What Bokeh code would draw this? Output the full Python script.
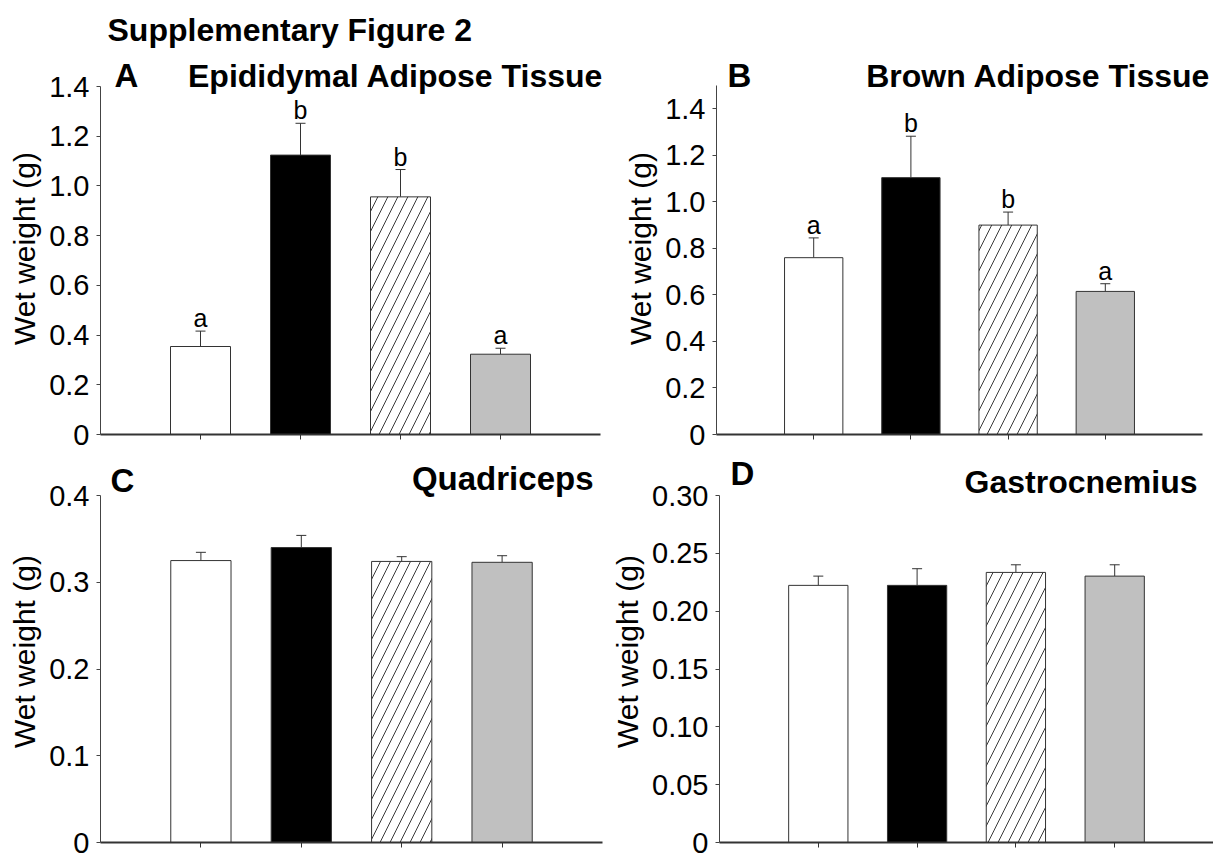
from bokeh.plotting import figure
from bokeh.models import (ColumnDataSource, Whisker, TeeHead, Label, FixedTicker,
                          NumeralTickFormatter, Range1d)
from bokeh.layouts import column, row
from bokeh.embed import file_html
from bokeh.resources import INLINE
from bokeh.core.properties import value

FONT = "Liberation Sans"

# ---- data -------------------------------------------------------------
group_x = [1, 2, 3, 4]
bar_fills = ["white", "black", "white", "#c0c0c0"]
bar_hatches = [" ", " ", "/", " "]

epi_mean = [0.354, 1.124, 0.956, 0.323]
epi_se = [0.062, 0.128, 0.110, 0.024]
epi_letters = ["a", "b", "b", "a"]

bat_mean = [0.760, 1.104, 0.900, 0.615]
bat_se = [0.085, 0.178, 0.056, 0.033]
bat_letters = ["a", "b", "b", "a"]

quad_mean = [0.325, 0.340, 0.324, 0.323]
quad_se = [0.0095, 0.014, 0.0055, 0.0076]

gas_mean = [0.2223, 0.2223, 0.2335, 0.2303]
gas_se = [0.0080, 0.0144, 0.0066, 0.0098]

epi_ticks = [0, 0.2, 0.4, 0.6, 0.8, 1.0, 1.2, 1.4]
bat_ticks = [0, 0.2, 0.4, 0.6, 0.8, 1.0, 1.2, 1.4]
quad_ticks = [0, 0.1, 0.2, 0.3, 0.4]
gas_ticks = [0, 0.05, 0.10, 0.15, 0.20, 0.25, 0.30]

AX = "#333333"
X_AXIS_MAX = 5


def bold_label(x, y, xo, yo, text, size, align="left"):
    return Label(x=x, y=y, x_offset=xo, y_offset=yo, text=text, text_font=FONT,
                 text_font_size=size, text_font_style="bold", text_baseline="alphabetic",
                 text_align=align, text_color="black")


def make_panel(mean, se, letters, axis_max, y_ticks, fmt, w, h, bl, br, bt, bb, ypad, xpad,
               tag, title, tag_off, title_off, title_size="32px"):
    # the frame reaches `ypad` px above the top of the (bounded) y axis and `xpad` px
    # right of the end of the (bounded) x axis, so the panel captions fit inside it
    frame_h = h - bt - bb
    frame_w = w - bl - br
    y_end = axis_max * frame_h / (frame_h - ypad)
    x_end = X_AXIS_MAX * frame_w / (frame_w - xpad)
    p = figure(width=w, height=h, x_range=Range1d(0, x_end), y_range=Range1d(0, y_end),
               output_backend="svg", toolbar_location=None,
               min_border_left=bl, min_border_right=br, min_border_top=bt, min_border_bottom=bb,
               outline_line_color=None, background_fill_color="white", border_fill_color="white")
    p.grid.visible = False
    upper = [m + s for m, s in zip(mean, se)]
    data = dict(x=group_x, top=mean, upper=upper, fill=bar_fills, hatch=bar_hatches)
    if letters:
        data["letter"] = letters
    src = ColumnDataSource(data)
    p.vbar(x="x", top="top", bottom=0, width=0.6, source=src, fill_color="fill",
           line_color=AX, line_width=1, hatch_pattern="hatch", hatch_color="#222222",
           hatch_weight=0.9, hatch_scale=20)
    p.add_layout(Whisker(source=src, base="x", lower="top", upper="upper", line_color=AX,
                         line_width=1, upper_head=TeeHead(size=10, line_color=AX, line_width=1),
                         lower_head=None))
    if letters:
        p.text(x="x", y="upper", text="letter", source=src, text_align="center",
               text_baseline="alphabetic", y_offset=-13, text_font=value(FONT),
               text_font_size="25px", text_color="black")

    xa = p.xaxis[0]
    xa.bounds = (0, X_AXIS_MAX)
    xa.ticker = FixedTicker(ticks=group_x)
    xa.major_label_overrides = {t: "" for t in group_x}
    xa.major_label_text_font_size = "1px"
    xa.major_label_standoff = 0
    xa.major_tick_out = 5
    xa.major_tick_in = 0
    xa.minor_tick_out = 0
    xa.minor_tick_in = 0
    xa.axis_line_color = AX
    xa.axis_line_width = 2
    xa.major_tick_line_color = AX

    ya = p.yaxis[0]
    ya.bounds = (0, axis_max)
    ya.ticker = FixedTicker(ticks=y_ticks)
    ya.formatter = NumeralTickFormatter(format=fmt)
    ya.major_label_overrides = {0: "0"}
    ya.major_label_text_font = FONT
    ya.major_label_text_font_size = "29px"
    ya.major_label_text_color = "black"
    ya.major_label_standoff = 7
    ya.major_tick_out = 4
    ya.major_tick_in = 0
    ya.minor_tick_out = 0
    ya.minor_tick_in = 0
    ya.axis_line_color = "#444444"
    ya.axis_line_width = 1
    ya.major_tick_line_color = "#444444"
    ya.axis_label = "Wet weight (g)"
    ya.axis_label_text_font = FONT
    ya.axis_label_text_font_size = "30px"
    ya.axis_label_text_font_style = "normal"
    ya.axis_label_text_color = "black"
    ya.axis_label_standoff = 5

    p.add_layout(bold_label(p.x_range.start, axis_max, tag_off[0], tag_off[1], tag, "33px"))
    p.add_layout(bold_label(p.x_range.end, axis_max, title_off[0], title_off[1], title,
                            title_size, "right"))
    return p


pA = make_panel(epi_mean, epi_se, epi_letters, 1.4, epi_ticks, "0.0", 608, 450, 100, 0, 62, 16, 24, 8,
                "A", "Epididymal Adipose Tissue", (14, 11), (-5, 11))
# figure title lives in the side panel above panel A (not clipped to the frame)
pA.add_layout(bold_label(pA.x_range.start, 1.4, 7, 57, "Supplementary Figure 2", "32px"), "above")
pB = make_panel(bat_mean, bat_se, bat_letters, 1.5, bat_ticks, "0.0", 605, 450, 108, 0, 62, 16, 23, 11,
                "B", "Brown Adipose Tissue", (11, 10), (-3, 10))
pC = make_panel(quad_mean, quad_se, None, 0.4, quad_ticks, "0.0", 608, 407, 100, 6, 10, 15, 35, 0,
                "C", "Quadriceps", (10, 15), (-9, 17), "33px")
pD = make_panel(gas_mean, gas_se, None, 0.30, gas_ticks, "0.00", 605, 407, 108, 0, 10, 15, 35, 0,
                "D", "Gastrocnemius", (11, 22), (-16, 14))

layout = column(row(pA, pB, spacing=0), row(pC, pD, spacing=0), spacing=0)

with open("out.html", "w") as f:
    f.write(file_html(layout, INLINE))
